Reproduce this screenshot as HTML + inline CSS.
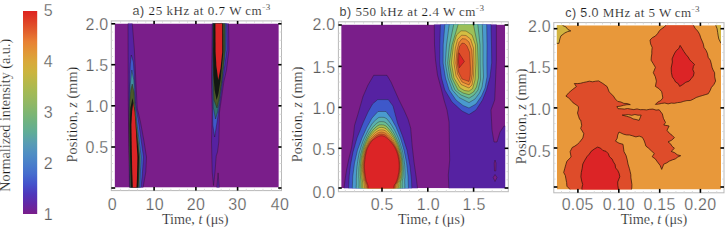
<!DOCTYPE html><html><head><meta charset="utf-8"><style>html,body{margin:0;padding:0;background:#fff;}body{width:726px;height:227px;overflow:hidden;position:relative;}svg{position:absolute;left:0;top:0;}</style></head><body>
<svg width="726" height="227" viewBox="0 0 726 227">
<defs><linearGradient id="cb" x1="0" y1="1" x2="0" y2="0">
<stop offset="0.000" stop-color="#7a1e8a"/>
<stop offset="0.050" stop-color="#6228a6"/>
<stop offset="0.100" stop-color="#4e38bc"/>
<stop offset="0.150" stop-color="#4454cc"/>
<stop offset="0.200" stop-color="#466ece"/>
<stop offset="0.250" stop-color="#4a80ca"/>
<stop offset="0.300" stop-color="#508fc3"/>
<stop offset="0.350" stop-color="#599db3"/>
<stop offset="0.400" stop-color="#60ac98"/>
<stop offset="0.450" stop-color="#6db283"/>
<stop offset="0.500" stop-color="#7fb671"/>
<stop offset="0.550" stop-color="#93b863"/>
<stop offset="0.600" stop-color="#a3ba55"/>
<stop offset="0.650" stop-color="#b7b849"/>
<stop offset="0.700" stop-color="#ccb43e"/>
<stop offset="0.750" stop-color="#d9a93a"/>
<stop offset="0.800" stop-color="#e29636"/>
<stop offset="0.850" stop-color="#e88034"/>
<stop offset="0.900" stop-color="#e25f2d"/>
<stop offset="0.950" stop-color="#df4026"/>
<stop offset="1.000" stop-color="#de2220"/>
</linearGradient>
<clipPath id="clipa"><rect x="114.6" y="23.5" width="164.2" height="164.1"/></clipPath>
<clipPath id="clipb"><rect x="341.2" y="24.6" width="164.0" height="163.6"/></clipPath>
<clipPath id="clipc"><rect x="556.8" y="25.3" width="164.2" height="164.2"/></clipPath>
</defs>
<rect x="23" y="11" width="14.2" height="203" fill="url(#cb)"/>
<text x="43.8" y="16.0" font-family="'Liberation Sans', sans-serif" font-size="16" fill="#5a5a5a" stroke="#fff" stroke-width="0.25">5</text>
<text x="43.8" y="67.0" font-family="'Liberation Sans', sans-serif" font-size="16" fill="#5a5a5a" stroke="#fff" stroke-width="0.25">4</text>
<text x="43.8" y="118.0" font-family="'Liberation Sans', sans-serif" font-size="16" fill="#5a5a5a" stroke="#fff" stroke-width="0.25">3</text>
<text x="43.8" y="169.0" font-family="'Liberation Sans', sans-serif" font-size="16" fill="#5a5a5a" stroke="#fff" stroke-width="0.25">2</text>
<text x="43.8" y="220.0" font-family="'Liberation Sans', sans-serif" font-size="16" fill="#5a5a5a" stroke="#fff" stroke-width="0.25">1</text>
<text transform="translate(9.6,115.2) rotate(-90)" text-anchor="middle" font-family="'Liberation Serif', serif" font-size="14.2" fill="#1a1a1a" stroke="#fff" stroke-width="0.2">Normalized intensity (a.u.)</text>
<g clip-path="url(#clipa)">
<rect x="114.6" y="23.5" width="164.2" height="164.1" fill="#7a1e8a"/>
<polygon points="128.0,20.0 132.0,20.0 134.4,50.0 135.8,80.0 137.2,108.0 140.5,122.0 143.8,140.0 146.5,157.0 145.8,172.0 144.0,182.0 142.4,192.0 129.5,192.0 128.9,150.0 128.2,100.0" fill="#5622a2" stroke="#201010" stroke-opacity="0.75" stroke-width="0.45" stroke-linejoin="round"/>
<polygon points="131.3,55.0 133.4,62.0 134.6,80.0 135.6,105.0 138.6,122.0 143.5,157.0 142.2,176.0 140.6,192.0 130.0,192.0 129.2,150.0 129.0,110.0 129.6,80.0 130.3,64.0" fill="#3e58ca" stroke="#201010" stroke-opacity="0.75" stroke-width="0.45" stroke-linejoin="round"/>
<polygon points="131.8,70.0 133.8,80.0 134.8,100.0 136.8,122.0 141.2,157.0 140.0,180.0 139.2,192.0 130.3,192.0 129.4,150.0 129.4,110.0 130.2,85.0" fill="#3f8fa0" stroke="#201010" stroke-opacity="0.75" stroke-width="0.45" stroke-linejoin="round"/>
<polygon points="132.2,84.0 134.0,92.0 134.6,104.0 136.2,122.0 139.8,157.0 139.0,180.0 138.4,192.0 130.7,192.0 129.6,157.0 129.3,125.0 129.8,100.0 130.8,90.0" fill="#4a5a2a" stroke="#201010" stroke-opacity="0.75" stroke-width="0.45" stroke-linejoin="round"/>
<polygon points="132.5,98.0 134.3,108.0 135.8,124.0 139.0,157.0 138.5,180.0 137.8,192.0 131.2,192.0 130.1,157.0 129.7,125.0 130.4,108.0" fill="#121812" />
<polygon points="133.2,103.0 134.6,112.0 135.6,125.0 137.4,157.0 136.9,180.0 136.2,192.0 133.0,192.0 132.2,170.0 131.8,150.0 131.4,125.0 132.1,112.0" fill="#dc2426" />
<polygon points="212.2,20.0 228.4,20.0 229.0,50.0 226.5,70.0 223.8,82.0 219.5,112.0 218.8,142.0 217.5,152.0 216.2,156.0 215.0,172.0 213.5,185.5 212.2,172.0 211.5,142.0 212.2,112.0 211.5,82.0 211.9,52.0" fill="#5622a2" stroke="#201010" stroke-opacity="0.75" stroke-width="0.45" stroke-linejoin="round"/>
<polygon points="212.8,20.0 226.6,20.0 226.9,50.0 223.5,75.0 220.8,95.0 218.6,112.0 216.6,125.0 214.6,137.0 212.8,125.0 212.4,100.0 212.1,75.0 212.5,52.0" fill="#3e58ca" stroke="#201010" stroke-opacity="0.75" stroke-width="0.45" stroke-linejoin="round"/>
<polygon points="213.2,20.0 225.4,20.0 225.5,50.0 222.2,80.0 219.6,100.0 217.6,112.0 215.5,119.0 213.4,108.0 212.8,85.0 213.0,52.0" fill="#2f6f70" stroke="#201010" stroke-opacity="0.75" stroke-width="0.45" stroke-linejoin="round"/>
<polygon points="213.3,20.0 224.6,20.0 224.6,52.0 221.8,80.0 219.2,98.0 217.0,108.0 214.0,100.0 213.2,80.0 213.1,52.0" fill="#4a5a2a" stroke="#201010" stroke-opacity="0.75" stroke-width="0.45" stroke-linejoin="round"/>
<polygon points="213.4,20.0 223.2,20.0 223.4,52.0 220.6,80.0 218.4,94.0 216.6,100.0 214.6,90.0 213.4,75.0 213.2,52.0" fill="#121812" />
<polygon points="215.4,20.0 222.2,20.0 222.2,52.0 220.6,68.0 218.2,80.0 216.4,66.0 215.6,52.0" fill="#dc2426" />
<polygon points="218.1,172.9 219.6,192.0 216.4,192.0" fill="#5622a2" stroke="#201010" stroke-opacity="0.75" stroke-width="0.45" stroke-linejoin="round"/>
</g>
<rect x="111.3" y="20.9" width="170.2" height="169.7" fill="none" stroke="#b9b9b9" stroke-width="1"/>
<rect x="120.27" y="188.8" width="0.8" height="1.8" fill="#d4d4d4"/>
<rect x="120.27" y="20.9" width="0.8" height="1.8" fill="#d4d4d4"/>
<rect x="128.64" y="188.8" width="0.8" height="1.8" fill="#d4d4d4"/>
<rect x="128.64" y="20.9" width="0.8" height="1.8" fill="#d4d4d4"/>
<rect x="137.01" y="188.8" width="0.8" height="1.8" fill="#d4d4d4"/>
<rect x="137.01" y="20.9" width="0.8" height="1.8" fill="#d4d4d4"/>
<rect x="145.38" y="188.8" width="0.8" height="1.8" fill="#d4d4d4"/>
<rect x="145.38" y="20.9" width="0.8" height="1.8" fill="#d4d4d4"/>
<rect x="153.75" y="188.8" width="0.8" height="1.8" fill="#d4d4d4"/>
<rect x="153.75" y="20.9" width="0.8" height="1.8" fill="#d4d4d4"/>
<rect x="162.12" y="188.8" width="0.8" height="1.8" fill="#d4d4d4"/>
<rect x="162.12" y="20.9" width="0.8" height="1.8" fill="#d4d4d4"/>
<rect x="170.49" y="188.8" width="0.8" height="1.8" fill="#d4d4d4"/>
<rect x="170.49" y="20.9" width="0.8" height="1.8" fill="#d4d4d4"/>
<rect x="178.86" y="188.8" width="0.8" height="1.8" fill="#d4d4d4"/>
<rect x="178.86" y="20.9" width="0.8" height="1.8" fill="#d4d4d4"/>
<rect x="187.23" y="188.8" width="0.8" height="1.8" fill="#d4d4d4"/>
<rect x="187.23" y="20.9" width="0.8" height="1.8" fill="#d4d4d4"/>
<rect x="195.60" y="188.8" width="0.8" height="1.8" fill="#d4d4d4"/>
<rect x="195.60" y="20.9" width="0.8" height="1.8" fill="#d4d4d4"/>
<rect x="203.97" y="188.8" width="0.8" height="1.8" fill="#d4d4d4"/>
<rect x="203.97" y="20.9" width="0.8" height="1.8" fill="#d4d4d4"/>
<rect x="212.34" y="188.8" width="0.8" height="1.8" fill="#d4d4d4"/>
<rect x="212.34" y="20.9" width="0.8" height="1.8" fill="#d4d4d4"/>
<rect x="220.71" y="188.8" width="0.8" height="1.8" fill="#d4d4d4"/>
<rect x="220.71" y="20.9" width="0.8" height="1.8" fill="#d4d4d4"/>
<rect x="229.08" y="188.8" width="0.8" height="1.8" fill="#d4d4d4"/>
<rect x="229.08" y="20.9" width="0.8" height="1.8" fill="#d4d4d4"/>
<rect x="237.45" y="188.8" width="0.8" height="1.8" fill="#d4d4d4"/>
<rect x="237.45" y="20.9" width="0.8" height="1.8" fill="#d4d4d4"/>
<rect x="245.82" y="188.8" width="0.8" height="1.8" fill="#d4d4d4"/>
<rect x="245.82" y="20.9" width="0.8" height="1.8" fill="#d4d4d4"/>
<rect x="254.19" y="188.8" width="0.8" height="1.8" fill="#d4d4d4"/>
<rect x="254.19" y="20.9" width="0.8" height="1.8" fill="#d4d4d4"/>
<rect x="262.56" y="188.8" width="0.8" height="1.8" fill="#d4d4d4"/>
<rect x="262.56" y="20.9" width="0.8" height="1.8" fill="#d4d4d4"/>
<rect x="270.93" y="188.8" width="0.8" height="1.8" fill="#d4d4d4"/>
<rect x="270.93" y="20.9" width="0.8" height="1.8" fill="#d4d4d4"/>
<rect x="279.30" y="188.8" width="0.8" height="1.8" fill="#d4d4d4"/>
<rect x="279.30" y="20.9" width="0.8" height="1.8" fill="#d4d4d4"/>
<rect x="111.3" y="23.40" width="1.8" height="0.8" fill="#d4d4d4"/>
<rect x="279.7" y="23.40" width="1.8" height="0.8" fill="#d4d4d4"/>
<rect x="111.3" y="31.62" width="1.8" height="0.8" fill="#d4d4d4"/>
<rect x="279.7" y="31.62" width="1.8" height="0.8" fill="#d4d4d4"/>
<rect x="111.3" y="39.84" width="1.8" height="0.8" fill="#d4d4d4"/>
<rect x="279.7" y="39.84" width="1.8" height="0.8" fill="#d4d4d4"/>
<rect x="111.3" y="48.06" width="1.8" height="0.8" fill="#d4d4d4"/>
<rect x="279.7" y="48.06" width="1.8" height="0.8" fill="#d4d4d4"/>
<rect x="111.3" y="56.28" width="1.8" height="0.8" fill="#d4d4d4"/>
<rect x="279.7" y="56.28" width="1.8" height="0.8" fill="#d4d4d4"/>
<rect x="111.3" y="64.50" width="1.8" height="0.8" fill="#d4d4d4"/>
<rect x="279.7" y="64.50" width="1.8" height="0.8" fill="#d4d4d4"/>
<rect x="111.3" y="72.72" width="1.8" height="0.8" fill="#d4d4d4"/>
<rect x="279.7" y="72.72" width="1.8" height="0.8" fill="#d4d4d4"/>
<rect x="111.3" y="80.94" width="1.8" height="0.8" fill="#d4d4d4"/>
<rect x="279.7" y="80.94" width="1.8" height="0.8" fill="#d4d4d4"/>
<rect x="111.3" y="89.16" width="1.8" height="0.8" fill="#d4d4d4"/>
<rect x="279.7" y="89.16" width="1.8" height="0.8" fill="#d4d4d4"/>
<rect x="111.3" y="97.38" width="1.8" height="0.8" fill="#d4d4d4"/>
<rect x="279.7" y="97.38" width="1.8" height="0.8" fill="#d4d4d4"/>
<rect x="111.3" y="105.60" width="1.8" height="0.8" fill="#d4d4d4"/>
<rect x="279.7" y="105.60" width="1.8" height="0.8" fill="#d4d4d4"/>
<rect x="111.3" y="113.82" width="1.8" height="0.8" fill="#d4d4d4"/>
<rect x="279.7" y="113.82" width="1.8" height="0.8" fill="#d4d4d4"/>
<rect x="111.3" y="122.04" width="1.8" height="0.8" fill="#d4d4d4"/>
<rect x="279.7" y="122.04" width="1.8" height="0.8" fill="#d4d4d4"/>
<rect x="111.3" y="130.26" width="1.8" height="0.8" fill="#d4d4d4"/>
<rect x="279.7" y="130.26" width="1.8" height="0.8" fill="#d4d4d4"/>
<rect x="111.3" y="138.48" width="1.8" height="0.8" fill="#d4d4d4"/>
<rect x="279.7" y="138.48" width="1.8" height="0.8" fill="#d4d4d4"/>
<rect x="111.3" y="146.70" width="1.8" height="0.8" fill="#d4d4d4"/>
<rect x="279.7" y="146.70" width="1.8" height="0.8" fill="#d4d4d4"/>
<rect x="111.3" y="154.92" width="1.8" height="0.8" fill="#d4d4d4"/>
<rect x="279.7" y="154.92" width="1.8" height="0.8" fill="#d4d4d4"/>
<rect x="111.3" y="163.14" width="1.8" height="0.8" fill="#d4d4d4"/>
<rect x="279.7" y="163.14" width="1.8" height="0.8" fill="#d4d4d4"/>
<rect x="111.3" y="171.36" width="1.8" height="0.8" fill="#d4d4d4"/>
<rect x="279.7" y="171.36" width="1.8" height="0.8" fill="#d4d4d4"/>
<rect x="111.3" y="179.58" width="1.8" height="0.8" fill="#d4d4d4"/>
<rect x="279.7" y="179.58" width="1.8" height="0.8" fill="#d4d4d4"/>
<rect x="111.3" y="187.80" width="1.8" height="0.8" fill="#d4d4d4"/>
<rect x="279.7" y="187.80" width="1.8" height="0.8" fill="#d4d4d4"/>
<rect x="153.30" y="187.0" width="1.6" height="3.6" fill="#000"/>
<rect x="153.30" y="20.9" width="1.6" height="3.2" fill="#000"/>
<rect x="195.10" y="187.0" width="1.6" height="3.6" fill="#000"/>
<rect x="195.10" y="20.9" width="1.6" height="3.2" fill="#000"/>
<rect x="236.80" y="187.0" width="1.6" height="3.6" fill="#000"/>
<rect x="236.80" y="20.9" width="1.6" height="3.2" fill="#000"/>
<rect x="111.3" y="187.20" width="3.9" height="1.6" fill="#000"/>
<rect x="278.2" y="187.20" width="3.3" height="1.6" fill="#000"/>
<rect x="111.3" y="146.20" width="3.9" height="1.6" fill="#000"/>
<rect x="278.2" y="146.20" width="3.3" height="1.6" fill="#000"/>
<rect x="111.3" y="105.00" width="3.9" height="1.6" fill="#000"/>
<rect x="278.2" y="105.00" width="3.3" height="1.6" fill="#000"/>
<rect x="111.3" y="63.90" width="3.9" height="1.6" fill="#000"/>
<rect x="278.2" y="63.90" width="3.3" height="1.6" fill="#000"/>
<rect x="111.3" y="23.00" width="3.9" height="1.6" fill="#000"/>
<rect x="278.2" y="23.00" width="3.3" height="1.6" fill="#000"/>
<g clip-path="url(#clipb)">
<rect x="341.2" y="24.6" width="164.0" height="163.6" fill="#7a1e8a"/>
<polygon points="434.3,20.0 434.3,25.0 434.5,45.0 435.5,60.0 437.5,75.0 441.0,88.0 444.0,100.0 447.0,110.0 449.0,122.0 449.3,140.0 449.7,160.0 448.3,175.0 449.0,192.0 510.0,192.0 510.0,126.0 504.0,126.0 500.0,132.0 497.0,142.0 494.0,142.0 492.0,130.0 491.0,110.0 494.7,100.0 496.4,60.0 496.4,20.0" fill="#5622a2" stroke="#201010" stroke-opacity="0.75" stroke-width="0.45" stroke-linejoin="round"/>
<polygon points="495.0,174.5 497.0,177.5 495.0,181.5 493.2,177.5" fill="#7a1e8a" stroke="#201010" stroke-opacity="0.75" stroke-width="0.45" stroke-linejoin="round"/>
<polygon points="495.0,160.0 496.0,163.0 495.8,171.0 494.5,171.0 494.2,163.0" fill="#7a1e8a" stroke="#201010" stroke-opacity="0.75" stroke-width="0.45" stroke-linejoin="round"/>
<polygon points="440.4,10.0 440.4,25.0 439.8,45.0 439.7,63.0 441.5,78.0 444.8,90.0 452.0,102.0 462.0,111.0 469.0,114.5 476.0,110.0 482.5,100.0 486.5,90.0 490.0,77.0 491.7,63.0 491.5,45.0 491.0,25.0 491.0,10.0" fill="#3e58ca" stroke="#201010" stroke-opacity="0.75" stroke-width="0.45" stroke-linejoin="round"/>
<polygon points="444.8,10.0 444.8,25.0 443.2,45.0 443.1,63.0 445.5,78.0 449.2,90.0 456.0,100.0 463.0,105.5 469.0,108.0 476.0,104.0 481.5,96.0 485.0,88.0 487.0,77.0 486.9,63.0 487.0,45.0 486.7,25.0 486.7,10.0" fill="#4a9ace" stroke="#201010" stroke-opacity="0.75" stroke-width="0.45" stroke-linejoin="round"/>
<polygon points="449.2,10.0 449.2,25.0 446.5,45.0 445.3,63.0 448.0,78.0 452.3,90.0 459.0,97.5 469.0,102.6 475.0,99.0 479.5,93.0 482.0,87.0 483.5,77.0 483.0,63.0 483.0,45.0 482.3,25.0 482.3,10.0" fill="#5ab0b0" stroke="#201010" stroke-opacity="0.75" stroke-width="0.45" stroke-linejoin="round"/>
<polygon points="453.6,10.0 453.6,25.0 449.5,45.0 447.7,63.0 450.0,78.0 455.0,90.0 461.0,95.0 469.0,98.2 474.0,95.0 478.0,90.0 480.5,80.0 480.1,63.0 480.0,45.0 477.9,25.0 477.9,10.0" fill="#6cbe90" stroke="#201010" stroke-opacity="0.75" stroke-width="0.45" stroke-linejoin="round"/>
<polygon points="458.0,10.0 458.0,25.0 452.0,45.0 449.3,63.0 452.0,78.0 458.0,90.0 463.0,93.0 469.0,94.7 473.5,92.0 476.5,87.0 478.5,78.0 478.2,63.0 477.5,45.0 473.5,25.0 473.5,10.0" fill="#9cc058" stroke="#201010" stroke-opacity="0.75" stroke-width="0.45" stroke-linejoin="round"/>
<polygon points="461.0,30.8 456.5,35.0 453.5,45.0 451.4,63.0 454.0,78.0 460.0,88.0 464.5,90.5 469.0,91.2 472.6,88.5 475.0,80.0 475.9,63.0 475.5,45.0 472.0,35.0 466.0,31.0" fill="#d4be42" stroke="#201010" stroke-opacity="0.75" stroke-width="0.45" stroke-linejoin="round"/>
<polygon points="461.5,35.2 457.5,39.5 455.3,48.0 453.9,63.0 456.0,76.0 461.0,84.5 469.0,88.0 472.0,85.0 473.5,76.0 474.0,63.0 473.5,48.0 470.5,39.0 466.0,35.5" fill="#eea23e" stroke="#201010" stroke-opacity="0.75" stroke-width="0.45" stroke-linejoin="round"/>
<polygon points="462.0,38.7 459.0,42.5 457.0,50.0 455.8,63.0 457.5,74.0 462.0,82.0 469.0,85.0 471.0,81.0 472.3,74.0 472.6,63.0 471.8,50.0 469.0,42.0 465.5,39.0" fill="#e88032" stroke="#201010" stroke-opacity="0.75" stroke-width="0.45" stroke-linejoin="round"/>
<polygon points="462.0,43.1 459.5,46.5 457.8,54.0 457.3,63.0 458.5,72.0 462.0,79.0 469.0,81.5 470.2,76.0 470.4,68.0 470.0,60.0 469.5,52.0 467.0,46.0 464.5,43.5" fill="#de4e2a" stroke="#201010" stroke-opacity="0.75" stroke-width="0.45" stroke-linejoin="round"/>
<polygon points="458.9,52.8 464.4,61.5 459.3,67.8 458.5,62.0" fill="#dc2426" stroke="#201010" stroke-opacity="0.75" stroke-width="0.45" stroke-linejoin="round"/>
<polygon points="344.0,210.0 344.0,188.0 345.0,180.0 346.5,170.0 349.0,158.0 351.5,148.0 353.5,135.0 354.5,125.5 358.0,114.0 363.0,96.5 368.0,85.0 373.7,75.3 387.0,75.3 391.0,82.0 395.0,91.0 399.0,100.0 404.0,110.0 408.0,119.0 410.7,128.2 412.2,146.0 414.0,162.0 416.0,176.0 417.5,188.0 417.5,210.0" fill="#5622a2" stroke="#201010" stroke-opacity="0.75" stroke-width="0.45" stroke-linejoin="round"/>
<polygon points="348.6,210.0 348.6,188.0 349.2,176.0 350.5,165.0 353.0,152.0 357.0,138.0 363.0,123.0 368.0,112.0 372.5,104.0 377.7,99.6 388.3,99.6 393.0,106.0 397.5,123.0 402.5,136.0 407.0,150.0 410.0,166.0 411.5,180.0 411.8,188.0 411.8,210.0" fill="#3e58ca" stroke="#201010" stroke-opacity="0.75" stroke-width="0.45" stroke-linejoin="round"/>
<polygon points="352.5,210.0 352.3,188.0 352.8,176.0 354.5,163.0 357.5,150.0 362.0,138.0 367.0,127.0 372.0,118.0 378.0,111.5 386.0,111.5 391.0,118.0 396.0,127.0 400.5,138.0 404.0,150.0 406.6,163.0 408.0,176.0 408.4,188.0 408.4,210.0" fill="#4a9ace" stroke="#201010" stroke-opacity="0.75" stroke-width="0.45" stroke-linejoin="round"/>
<polygon points="405.0,192.0 404.9,191.2 404.9,190.4 404.9,189.5 404.9,188.7 404.9,187.9 404.8,187.0 404.8,186.2 404.8,185.3 404.8,184.4 404.7,183.5 404.7,182.6 404.7,181.7 404.7,180.7 404.7,179.6 404.8,178.5 405.0,177.3 405.0,176.1 405.0,174.9 405.0,173.6 405.0,172.3 405.0,170.9 404.9,169.4 404.8,167.8 404.8,166.2 404.6,164.4 404.4,162.7 404.1,160.8 403.9,158.9 403.5,156.8 403.1,154.5 402.7,152.2 402.1,149.8 401.4,147.4 400.6,144.7 399.7,141.9 398.7,139.1 397.5,136.3 396.1,133.3 394.6,130.2 392.9,127.3 391.0,124.2 388.9,121.4 386.6,118.6 384.1,117.4 381.5,117.3 378.9,117.4 376.4,119.2 374.1,121.5 371.9,124.0 370.1,127.1 368.3,130.0 366.8,133.0 365.4,135.9 364.2,138.6 363.0,141.2 362.1,143.9 361.2,146.5 360.5,148.9 359.8,151.1 359.1,153.3 358.7,155.5 358.3,157.6 358.0,159.6 357.7,161.5 357.4,163.3 357.2,165.0 357.0,166.6 356.9,168.2 356.7,169.7 356.6,171.1 356.5,172.5 356.5,173.8 356.4,175.1 356.4,176.3 356.4,177.5 356.3,178.6 356.3,179.7 356.3,180.8 356.3,181.8 356.3,182.8 356.3,183.8 356.3,184.8 356.2,185.7 356.2,186.6 356.1,187.5 356.1,188.4 356.1,189.3 356.1,190.2 356.1,191.1 356.1,192.0 356.1,192.9 356.0,193.8 356.0,194.7 356.0,195.6 356.0,196.5 356.0,197.4 356.0,198.4 356.0,199.3 356.0,200.3 356.0,201.3 355.9,202.3 355.9,203.4 355.9,204.5 355.9,205.6 355.9,206.8 356.0,207.9 357.6,208.1 359.1,208.3 360.4,208.5 361.6,208.7 362.7,208.9 363.8,209.1 364.7,209.3 365.7,209.5 366.7,209.7 367.5,209.9 368.4,210.0 369.3,210.1 370.1,210.2 371.0,210.3 371.7,210.4 372.5,210.4 373.3,210.4 374.0,210.5 374.8,210.5 375.5,210.5 376.2,210.6 376.9,210.6 377.5,210.6 378.2,210.6 378.9,210.6 379.5,210.6 380.2,210.6 380.8,210.7 381.5,210.7 382.2,210.6 382.8,210.6 383.5,210.6 384.1,210.6 384.8,210.6 385.5,210.6 386.1,210.6 386.8,210.5 387.5,210.5 388.2,210.5 388.9,210.4 389.7,210.4 390.4,210.3 391.2,210.2 392.0,210.2 392.8,210.1 393.6,210.0 394.5,209.8 395.3,209.7 396.2,209.5 397.1,209.3 398.0,209.1 399.0,208.9 400.0,208.7 401.2,208.5 402.4,208.3 403.7,208.1 405.1,207.9 405.2,206.8 405.2,205.7 405.2,204.6 405.2,203.6 405.2,202.5 405.2,201.6 405.1,200.6 405.1,199.7 405.1,198.8 405.1,197.9 405.1,197.0 405.0,196.2 405.0,195.3 405.0,194.5 405.0,193.6 405.0,192.8" fill="#5ab0b0" stroke="#201010" stroke-opacity="0.75" stroke-width="0.45" stroke-linejoin="round"/>
<polygon points="402.4,192.0 402.3,191.3 402.3,190.5 402.3,189.8 402.3,189.1 402.3,188.3 402.2,187.6 402.2,186.8 402.2,186.1 402.1,185.3 402.1,184.5 402.1,183.7 402.2,182.8 402.2,181.9 402.2,181.0 402.4,179.9 402.8,178.7 402.9,177.6 403.0,176.4 403.1,175.1 403.2,173.8 403.2,172.4 403.3,171.0 403.3,169.4 403.3,167.8 403.3,166.1 403.1,164.3 403.0,162.5 402.7,160.5 402.5,158.4 402.1,156.2 401.7,153.9 401.2,151.6 400.5,149.2 399.8,146.7 399.0,144.0 397.9,141.5 396.7,138.8 395.4,136.1 394.0,133.3 392.3,130.7 390.5,127.9 388.5,125.4 386.3,123.0 384.0,121.8 381.5,121.6 379.0,121.8 376.7,123.3 374.5,125.3 372.4,127.6 370.6,130.3 368.9,132.9 367.4,135.6 366.1,138.4 364.9,141.0 363.9,143.5 363.0,146.2 362.2,148.7 361.6,151.1 360.9,153.3 360.4,155.5 360.1,157.7 359.8,159.8 359.5,161.8 359.3,163.6 359.2,165.4 359.0,167.0 358.9,168.6 358.9,170.1 358.8,171.6 358.8,173.0 358.8,174.2 358.8,175.5 358.8,176.7 358.9,177.9 359.0,179.0 359.0,180.0 359.1,181.1 359.1,182.0 359.1,182.9 359.1,183.8 359.1,184.7 359.1,185.6 359.0,186.4 359.0,187.2 359.0,188.0 358.9,188.8 358.9,189.6 358.9,190.4 358.9,191.2 358.9,192.0 358.8,192.8 358.8,193.6 358.8,194.4 358.8,195.2 358.7,196.0 358.7,196.8 358.7,197.7 358.7,198.6 358.6,199.4 358.6,200.3 358.6,201.3 358.5,202.2 358.5,203.2 358.5,204.3 358.4,205.3 358.5,206.4 359.7,206.7 360.8,207.0 361.8,207.4 362.7,207.7 363.6,208.1 364.4,208.5 365.2,208.9 366.0,209.2 366.8,209.5 367.6,209.8 368.4,210.0 369.2,210.2 370.0,210.3 370.8,210.5 371.6,210.6 372.4,210.7 373.1,210.8 373.9,210.8 374.6,210.9 375.3,211.0 376.0,211.0 376.8,211.0 377.4,211.1 378.1,211.1 378.8,211.1 379.5,211.1 380.2,211.1 380.8,211.2 381.5,211.1 382.2,211.1 382.8,211.1 383.5,211.1 384.2,211.1 384.9,211.1 385.5,211.0 386.2,211.0 386.9,210.9 387.6,210.9 388.3,210.8 389.1,210.7 389.8,210.7 390.6,210.6 391.3,210.4 392.1,210.3 392.8,210.2 393.6,210.0 394.4,209.7 395.1,209.4 395.9,209.1 396.6,208.8 397.4,208.4 398.1,208.1 398.9,207.7 399.8,207.4 400.7,207.0 401.7,206.7 402.8,206.4 402.9,205.4 402.9,204.3 402.8,203.3 402.8,202.4 402.8,201.5 402.7,200.6 402.7,199.7 402.6,198.9 402.6,198.1 402.6,197.3 402.5,196.5 402.5,195.7 402.5,194.9 402.5,194.2 402.4,193.5 402.4,192.7" fill="#6cbe90" stroke="#201010" stroke-opacity="0.75" stroke-width="0.45" stroke-linejoin="round"/>
<polygon points="400.5,192.0 400.5,191.3 400.4,190.7 400.4,190.0 400.4,189.3 400.4,188.7 400.3,188.0 400.3,187.3 400.3,186.6 400.2,185.9 400.3,185.2 400.3,184.4 400.3,183.6 400.4,182.8 400.4,181.9 400.7,180.9 401.2,179.7 401.4,178.6 401.6,177.4 401.8,176.2 401.9,174.9 402.0,173.5 402.1,172.1 402.2,170.6 402.3,168.9 402.3,167.2 402.2,165.5 402.1,163.6 401.9,161.7 401.7,159.6 401.4,157.5 401.1,155.2 400.5,153.0 399.9,150.6 399.2,148.1 398.4,145.6 397.4,143.1 396.2,140.7 394.9,138.1 393.5,135.6 391.9,133.1 390.1,130.6 388.2,128.3 386.1,126.1 383.8,125.0 381.5,124.8 379.2,124.9 376.9,126.3 374.8,128.1 372.8,130.2 371.0,132.6 369.4,135.0 367.9,137.6 366.6,140.2 365.5,142.7 364.5,145.2 363.6,147.8 362.9,150.3 362.3,152.7 361.8,155.0 361.3,157.1 361.0,159.3 360.8,161.3 360.6,163.3 360.5,165.1 360.4,166.9 360.3,168.5 360.3,170.1 360.3,171.6 360.3,173.0 360.4,174.3 360.4,175.5 360.5,176.7 360.6,177.9 360.8,179.0 360.9,180.1 361.0,181.1 361.0,182.0 361.1,182.9 361.1,183.8 361.1,184.6 361.1,185.4 361.1,186.2 361.1,186.9 361.1,187.7 361.0,188.4 361.0,189.1 361.0,189.8 361.0,190.6 360.9,191.3 360.9,192.0 360.9,192.7 360.8,193.4 360.8,194.2 360.7,194.9 360.7,195.7 360.7,196.4 360.6,197.2 360.6,198.0 360.5,198.8 360.5,199.6 360.4,200.5 360.4,201.4 360.3,202.3 360.3,203.3 360.3,204.3 360.3,205.2 361.3,205.7 362.1,206.1 362.8,206.6 363.6,207.0 364.3,207.5 364.9,208.0 365.6,208.5 366.3,208.9 367.0,209.3 367.7,209.7 368.4,210.0 369.2,210.2 370.0,210.4 370.8,210.6 371.5,210.8 372.3,210.9 373.0,211.0 373.8,211.1 374.5,211.2 375.2,211.2 376.0,211.3 376.7,211.4 377.4,211.4 378.1,211.4 378.8,211.4 379.5,211.5 380.1,211.5 380.8,211.5 381.5,211.5 382.2,211.5 382.9,211.4 383.5,211.4 384.2,211.4 384.9,211.4 385.6,211.4 386.3,211.3 387.0,211.2 387.7,211.1 388.4,211.1 389.2,211.0 389.9,210.9 390.6,210.8 391.4,210.6 392.1,210.4 392.9,210.2 393.6,210.0 394.3,209.6 395.0,209.2 395.6,208.9 396.3,208.5 396.9,207.9 397.5,207.5 398.2,207.0 398.9,206.6 399.5,206.1 400.3,205.6 401.1,205.2 401.2,204.3 401.1,203.3 401.1,202.4 401.1,201.5 401.0,200.7 401.0,199.9 400.9,199.1 400.9,198.3 400.8,197.5 400.8,196.8 400.7,196.1 400.7,195.4 400.7,194.7 400.6,194.0 400.6,193.3 400.5,192.7" fill="#9cc058" stroke="#201010" stroke-opacity="0.75" stroke-width="0.45" stroke-linejoin="round"/>
<polygon points="398.9,192.0 398.9,191.4 398.8,190.8 398.8,190.2 398.8,189.6 398.8,189.0 398.7,188.3 398.7,187.7 398.7,187.1 398.6,186.4 398.7,185.7 398.7,185.0 398.7,184.3 398.8,183.6 398.9,182.7 399.2,181.8 399.9,180.5 400.1,179.4 400.4,178.3 400.6,177.1 400.8,175.8 401.0,174.5 401.1,173.1 401.2,171.6 401.4,169.9 401.4,168.2 401.4,166.5 401.4,164.6 401.3,162.7 401.1,160.6 400.8,158.5 400.5,156.3 400.0,154.1 399.4,151.7 398.7,149.3 397.9,146.9 396.9,144.6 395.8,142.2 394.5,139.8 393.1,137.5 391.5,135.2 389.8,132.8 387.9,130.7 385.9,128.7 383.7,127.7 381.5,127.4 379.3,127.6 377.1,128.9 375.0,130.5 373.1,132.3 371.4,134.5 369.8,136.7 368.3,139.2 367.1,141.7 365.9,144.1 365.0,146.5 364.2,149.2 363.5,151.7 363.0,154.1 362.5,156.3 362.1,158.4 361.9,160.6 361.7,162.6 361.6,164.6 361.5,166.4 361.5,168.2 361.5,169.8 361.5,171.3 361.6,172.7 361.6,174.1 361.7,175.4 361.8,176.6 361.9,177.7 362.1,178.9 362.3,180.0 362.5,181.0 362.6,182.0 362.7,182.8 362.8,183.7 362.8,184.4 362.8,185.2 362.8,185.9 362.8,186.7 362.8,187.3 362.8,188.0 362.8,188.7 362.7,189.4 362.7,190.0 362.7,190.7 362.7,191.3 362.6,192.0 362.6,192.7 362.5,193.3 362.5,194.0 362.4,194.7 362.4,195.4 362.3,196.1 362.3,196.8 362.2,197.5 362.2,198.3 362.1,199.1 362.0,199.9 362.0,200.7 361.9,201.5 361.9,202.4 361.8,203.4 361.9,204.3 362.5,204.8 363.2,205.3 363.7,205.9 364.3,206.4 364.8,207.0 365.4,207.6 365.8,208.2 366.5,208.7 367.1,209.2 367.7,209.6 368.4,210.1 369.2,210.3 369.9,210.5 370.7,210.7 371.4,211.0 372.2,211.1 373.0,211.2 373.7,211.3 374.4,211.4 375.2,211.5 375.9,211.6 376.6,211.6 377.3,211.7 378.0,211.7 378.7,211.7 379.4,211.8 380.1,211.8 380.8,211.8 381.5,211.8 382.2,211.8 382.9,211.7 383.6,211.7 384.3,211.7 385.0,211.7 385.7,211.6 386.4,211.6 387.1,211.5 387.8,211.4 388.5,211.3 389.2,211.2 390.0,211.1 390.7,210.9 391.4,210.7 392.2,210.5 392.9,210.2 393.7,210.0 394.3,209.5 394.8,209.1 395.5,208.6 396.0,208.1 396.5,207.5 397.0,206.9 397.5,206.4 398.0,205.9 398.5,205.3 399.1,204.8 399.7,204.3 399.7,203.4 399.7,202.5 399.7,201.7 399.6,200.8 399.5,200.0 399.5,199.3 399.4,198.5 399.4,197.8 399.3,197.1 399.3,196.4 399.2,195.8 399.2,195.1 399.1,194.5 399.1,193.8 399.0,193.2 399.0,192.6" fill="#d4be42" stroke="#201010" stroke-opacity="0.75" stroke-width="0.45" stroke-linejoin="round"/>
<polygon points="397.5,192.0 397.4,191.4 397.4,190.9 397.3,190.3 397.3,189.8 397.3,189.2 397.3,188.6 397.2,188.1 397.2,187.5 397.2,186.9 397.2,186.3 397.3,185.6 397.3,185.0 397.4,184.2 397.5,183.5 397.9,182.5 398.7,181.3 399.0,180.2 399.3,179.1 399.6,177.9 399.8,176.6 400.0,175.3 400.2,173.9 400.4,172.4 400.6,170.8 400.7,169.1 400.7,167.4 400.7,165.5 400.7,163.6 400.5,161.6 400.3,159.5 400.0,157.3 399.5,155.1 399.0,152.8 398.3,150.4 397.5,148.1 396.5,145.8 395.4,143.6 394.1,141.4 392.7,139.2 391.2,137.1 389.5,134.9 387.7,132.9 385.8,131.1 383.7,130.1 381.5,129.9 379.3,130.1 377.2,131.2 375.3,132.6 373.4,134.3 371.7,136.3 370.1,138.3 368.7,140.7 367.5,143.1 366.4,145.4 365.4,147.8 364.7,150.4 364.1,152.9 363.6,155.3 363.2,157.5 362.8,159.7 362.6,161.8 362.5,163.8 362.4,165.8 362.4,167.6 362.5,169.3 362.5,170.9 362.6,172.4 362.7,173.8 362.8,175.2 362.9,176.4 363.0,177.5 363.2,178.7 363.4,179.8 363.7,180.9 363.9,181.9 364.1,182.7 364.2,183.6 364.3,184.3 364.3,185.1 364.4,185.8 364.4,186.4 364.4,187.1 364.4,187.7 364.4,188.4 364.3,189.0 364.3,189.6 364.3,190.2 364.3,190.8 364.2,191.4 364.2,192.0 364.1,192.6 364.1,193.2 364.0,193.8 363.9,194.5 363.9,195.1 363.8,195.8 363.8,196.4 363.7,197.1 363.6,197.8 363.6,198.5 363.5,199.3 363.4,200.0 363.4,200.8 363.3,201.7 363.3,202.5 363.3,203.4 363.7,204.0 364.1,204.6 364.5,205.3 364.9,205.9 365.3,206.5 365.7,207.2 366.1,207.9 366.6,208.5 367.2,209.0 367.8,209.6 368.4,210.1 369.1,210.3 369.9,210.6 370.6,210.9 371.3,211.1 372.1,211.3 372.9,211.4 373.6,211.5 374.4,211.6 375.1,211.7 375.8,211.8 376.5,211.9 377.3,211.9 378.0,212.0 378.7,212.0 379.4,212.0 380.1,212.0 380.8,212.1 381.5,212.1 382.2,212.0 382.9,212.0 383.6,212.0 384.3,211.9 385.0,211.9 385.7,211.9 386.4,211.8 387.1,211.7 387.9,211.6 388.6,211.5 389.3,211.3 390.1,211.2 390.8,211.0 391.5,210.8 392.2,210.5 392.9,210.3 393.7,210.0 394.2,209.5 394.7,208.9 395.3,208.4 395.8,207.9 396.1,207.2 396.5,206.5 396.9,205.9 397.3,205.2 397.6,204.6 398.0,204.0 398.4,203.4 398.4,202.6 398.4,201.7 398.3,201.0 398.3,200.2 398.2,199.4 398.1,198.7 398.1,198.0 398.0,197.4 397.9,196.7 397.9,196.1 397.8,195.5 397.8,194.9 397.7,194.3 397.6,193.7 397.6,193.1 397.5,192.6" fill="#eea23e" stroke="#201010" stroke-opacity="0.75" stroke-width="0.45" stroke-linejoin="round"/>
<polygon points="396.2,192.0 396.1,191.5 396.1,191.0 396.0,190.5 396.0,190.0 396.0,189.4 396.0,188.9 395.9,188.4 395.9,187.9 395.9,187.3 395.9,186.7 396.0,186.2 396.0,185.5 396.1,184.9 396.3,184.1 396.7,183.2 397.6,182.0 397.9,180.9 398.3,179.8 398.6,178.6 398.9,177.4 399.2,176.1 399.4,174.7 399.6,173.2 399.8,171.6 400.0,170.0 400.1,168.2 400.1,166.4 400.1,164.4 400.0,162.4 399.8,160.3 399.5,158.2 399.1,156.0 398.5,153.7 397.9,151.4 397.1,149.2 396.1,147.0 395.0,144.9 393.8,142.8 392.4,140.7 390.9,138.7 389.3,136.7 387.5,134.9 385.6,133.3 383.6,132.3 381.5,132.0 379.4,132.3 377.4,133.3 375.5,134.6 373.6,136.1 372.0,137.9 370.4,139.8 369.0,142.0 367.8,144.3 366.7,146.6 365.8,149.0 365.1,151.5 364.6,154.0 364.1,156.4 363.8,158.7 363.5,160.8 363.3,162.9 363.2,164.9 363.2,166.8 363.3,168.7 363.3,170.4 363.4,171.9 363.6,173.4 363.7,174.8 363.8,176.1 364.0,177.3 364.1,178.4 364.3,179.5 364.6,180.6 365.0,181.7 365.2,182.6 365.4,183.5 365.6,184.2 365.7,185.0 365.7,185.6 365.8,186.3 365.8,186.9 365.8,187.5 365.8,188.1 365.8,188.7 365.7,189.2 365.7,189.8 365.7,190.3 365.7,190.9 365.6,191.4 365.6,192.0 365.5,192.6 365.4,193.1 365.4,193.7 365.3,194.3 365.2,194.9 365.2,195.5 365.1,196.1 365.0,196.7 365.0,197.4 364.9,198.0 364.8,198.7 364.7,199.5 364.6,200.2 364.6,201.0 364.5,201.8 364.5,202.6 364.8,203.3 365.0,204.0 365.2,204.7 365.5,205.4 365.8,206.1 366.1,206.9 366.3,207.7 366.8,208.3 367.3,208.9 367.8,209.5 368.4,210.1 369.1,210.4 369.8,210.7 370.6,211.0 371.3,211.2 372.0,211.4 372.8,211.5 373.6,211.7 374.3,211.8 375.0,211.9 375.7,212.1 376.5,212.1 377.2,212.1 377.9,212.2 378.7,212.2 379.4,212.3 380.1,212.3 380.8,212.3 381.5,212.3 382.2,212.3 382.9,212.2 383.6,212.2 384.3,212.2 385.0,212.1 385.8,212.1 386.5,212.0 387.2,211.9 387.9,211.8 388.6,211.6 389.4,211.5 390.1,211.4 390.8,211.2 391.5,210.9 392.2,210.6 392.9,210.3 393.7,210.0 394.2,209.4 394.6,208.8 395.1,208.2 395.6,207.6 395.8,206.8 396.1,206.1 396.3,205.4 396.6,204.7 396.8,204.0 397.0,203.3 397.3,202.6 397.2,201.8 397.2,201.1 397.1,200.3 397.1,199.6 397.0,198.9 396.9,198.2 396.8,197.6 396.8,197.0 396.7,196.4 396.6,195.8 396.6,195.2 396.5,194.6 396.4,194.1 396.4,193.6 396.3,193.0 396.3,192.5" fill="#e88032" stroke="#201010" stroke-opacity="0.75" stroke-width="0.45" stroke-linejoin="round"/>
<polygon points="395.0,192.0 395.0,191.5 394.9,191.1 394.9,190.6 394.9,190.1 394.8,189.6 394.8,189.2 394.8,188.7 394.7,188.2 394.7,187.7 394.8,187.2 394.8,186.6 394.9,186.0 395.0,185.4 395.2,184.7 395.6,183.8 396.6,182.6 397.0,181.6 397.4,180.5 397.8,179.3 398.1,178.1 398.4,176.8 398.7,175.4 398.9,173.9 399.2,172.4 399.4,170.7 399.5,168.9 399.6,167.1 399.6,165.2 399.5,163.1 399.4,161.1 399.1,159.0 398.7,156.8 398.2,154.6 397.5,152.3 396.7,150.1 395.8,148.0 394.7,146.0 393.5,144.0 392.1,142.1 390.6,140.2 389.0,138.4 387.3,136.7 385.5,135.2 383.5,134.3 381.5,134.0 379.5,134.2 377.5,135.1 375.6,136.3 373.9,137.7 372.2,139.3 370.7,141.1 369.3,143.2 368.1,145.4 367.1,147.6 366.2,150.0 365.5,152.5 365.0,155.0 364.6,157.4 364.3,159.6 364.1,161.8 363.9,163.8 363.9,165.9 363.9,167.8 364.0,169.6 364.1,171.3 364.3,172.9 364.4,174.3 364.6,175.7 364.8,176.9 364.9,178.1 365.1,179.2 365.3,180.3 365.7,181.3 366.1,182.4 366.4,183.3 366.6,184.1 366.8,184.8 366.9,185.5 367.0,186.1 367.0,186.7 367.1,187.3 367.1,187.9 367.1,188.4 367.0,188.9 367.0,189.4 367.0,190.0 367.0,190.5 366.9,191.0 366.9,191.5 366.8,192.0 366.7,192.5 366.7,193.0 366.6,193.6 366.5,194.1 366.5,194.7 366.4,195.2 366.3,195.8 366.2,196.4 366.1,197.0 366.1,197.6 366.0,198.3 365.9,199.0 365.8,199.7 365.7,200.4 365.7,201.1 365.6,201.9 365.7,202.7 365.8,203.4 365.8,204.2 366.0,205.0 366.2,205.8 366.4,206.6 366.6,207.5 367.0,208.2 367.4,208.8 367.8,209.5 368.4,210.1 369.1,210.4 369.8,210.7 370.5,211.0 371.2,211.4 372.0,211.5 372.7,211.7 373.5,211.8 374.2,212.0 375.0,212.1 375.7,212.3 376.4,212.3 377.2,212.3 377.9,212.4 378.6,212.4 379.3,212.5 380.1,212.5 380.8,212.5 381.5,212.5 382.2,212.5 382.9,212.4 383.6,212.4 384.4,212.4 385.1,212.3 385.8,212.3 386.5,212.2 387.3,212.1 388.0,211.9 388.7,211.8 389.4,211.6 390.2,211.5 390.9,211.3 391.6,211.0 392.3,210.6 393.0,210.3 393.7,210.0 394.1,209.4 394.6,208.7 395.0,208.1 395.4,207.4 395.5,206.5 395.7,205.7 395.9,204.9 396.0,204.2 396.1,203.4 396.1,202.6 396.2,201.9 396.2,201.2 396.1,200.4 396.1,199.8 396.0,199.1 395.9,198.4 395.8,197.8 395.7,197.2 395.7,196.6 395.6,196.0 395.5,195.5 395.4,195.0 395.4,194.4 395.3,193.9 395.2,193.4 395.2,193.0 395.1,192.5" fill="#de4e2a" stroke="#201010" stroke-opacity="0.75" stroke-width="0.45" stroke-linejoin="round"/>
<polygon points="368.2,210.0 366.7,207.4 366.4,203.8 366.7,199.5 367.4,195.1 368.0,191.1 368.2,188.0 368.0,185.9 367.6,184.4 367.2,183.2 366.8,182.3 366.3,181.3 366.0,180.0 365.7,178.4 365.4,176.7 365.2,175.0 364.9,173.3 364.7,171.6 364.6,170.0 364.5,168.6 364.4,167.3 364.4,166.0 364.4,164.7 364.5,163.4 364.6,162.0 364.8,160.4 365.0,158.7 365.2,156.9 365.5,155.1 365.9,153.5 366.2,152.0 366.5,150.8 366.9,149.6 367.3,148.7 367.7,147.7 368.2,146.9 368.6,146.0 369.0,145.2 369.5,144.4 370.0,143.6 370.4,142.9 370.9,142.2 371.5,141.5 372.1,140.8 372.7,140.2 373.4,139.6 374.1,139.0 374.8,138.5 375.5,138.0 376.2,137.5 377.0,137.1 377.8,136.7 378.5,136.3 379.3,136.0 380.0,135.8 380.7,135.7 381.4,135.7 382.0,135.7 382.7,135.8 383.3,136.0 384.0,136.2 384.7,136.5 385.3,136.9 386.0,137.3 386.7,137.9 387.3,138.4 388.0,139.0 388.7,139.7 389.4,140.4 390.1,141.1 390.7,141.9 391.4,142.7 392.0,143.5 392.6,144.2 393.1,144.9 393.6,145.7 394.1,146.4 394.5,147.2 395.0,148.0 395.5,148.9 395.9,149.8 396.3,150.8 396.8,151.8 397.1,152.9 397.5,154.0 397.8,155.2 398.1,156.5 398.4,157.9 398.6,159.3 398.8,160.6 399.0,162.0 399.1,163.3 399.2,164.7 399.2,166.0 399.2,167.3 399.1,168.7 399.0,170.0 398.9,171.4 398.7,172.8 398.4,174.2 398.1,175.6 397.9,176.8 397.6,178.0 397.3,179.0 397.0,179.9 396.7,180.7 396.4,181.4 396.1,182.2 395.8,183.0 395.4,183.6 395.0,184.0 394.6,184.4 394.3,185.1 393.9,186.2 393.7,188.0 393.9,190.9 394.5,194.9 395.2,199.3 395.5,203.7 395.2,207.4 393.7,210.0 390.6,211.5 386.1,212.4 380.9,212.8 375.8,212.4 371.3,211.5" fill="#dc2426" stroke="#201010" stroke-opacity="0.75" stroke-width="0.45" stroke-linejoin="round"/>
</g>
<rect x="338.4" y="21.8" width="169.9" height="169.9" fill="none" stroke="#b9b9b9" stroke-width="1"/>
<rect x="344.88" y="189.9" width="0.8" height="1.8" fill="#d4d4d4"/>
<rect x="344.88" y="21.8" width="0.8" height="1.8" fill="#d4d4d4"/>
<rect x="354.06" y="189.9" width="0.8" height="1.8" fill="#d4d4d4"/>
<rect x="354.06" y="21.8" width="0.8" height="1.8" fill="#d4d4d4"/>
<rect x="363.24" y="189.9" width="0.8" height="1.8" fill="#d4d4d4"/>
<rect x="363.24" y="21.8" width="0.8" height="1.8" fill="#d4d4d4"/>
<rect x="372.42" y="189.9" width="0.8" height="1.8" fill="#d4d4d4"/>
<rect x="372.42" y="21.8" width="0.8" height="1.8" fill="#d4d4d4"/>
<rect x="381.60" y="189.9" width="0.8" height="1.8" fill="#d4d4d4"/>
<rect x="381.60" y="21.8" width="0.8" height="1.8" fill="#d4d4d4"/>
<rect x="390.78" y="189.9" width="0.8" height="1.8" fill="#d4d4d4"/>
<rect x="390.78" y="21.8" width="0.8" height="1.8" fill="#d4d4d4"/>
<rect x="399.96" y="189.9" width="0.8" height="1.8" fill="#d4d4d4"/>
<rect x="399.96" y="21.8" width="0.8" height="1.8" fill="#d4d4d4"/>
<rect x="409.14" y="189.9" width="0.8" height="1.8" fill="#d4d4d4"/>
<rect x="409.14" y="21.8" width="0.8" height="1.8" fill="#d4d4d4"/>
<rect x="418.32" y="189.9" width="0.8" height="1.8" fill="#d4d4d4"/>
<rect x="418.32" y="21.8" width="0.8" height="1.8" fill="#d4d4d4"/>
<rect x="427.50" y="189.9" width="0.8" height="1.8" fill="#d4d4d4"/>
<rect x="427.50" y="21.8" width="0.8" height="1.8" fill="#d4d4d4"/>
<rect x="436.68" y="189.9" width="0.8" height="1.8" fill="#d4d4d4"/>
<rect x="436.68" y="21.8" width="0.8" height="1.8" fill="#d4d4d4"/>
<rect x="445.86" y="189.9" width="0.8" height="1.8" fill="#d4d4d4"/>
<rect x="445.86" y="21.8" width="0.8" height="1.8" fill="#d4d4d4"/>
<rect x="455.04" y="189.9" width="0.8" height="1.8" fill="#d4d4d4"/>
<rect x="455.04" y="21.8" width="0.8" height="1.8" fill="#d4d4d4"/>
<rect x="464.22" y="189.9" width="0.8" height="1.8" fill="#d4d4d4"/>
<rect x="464.22" y="21.8" width="0.8" height="1.8" fill="#d4d4d4"/>
<rect x="473.40" y="189.9" width="0.8" height="1.8" fill="#d4d4d4"/>
<rect x="473.40" y="21.8" width="0.8" height="1.8" fill="#d4d4d4"/>
<rect x="482.58" y="189.9" width="0.8" height="1.8" fill="#d4d4d4"/>
<rect x="482.58" y="21.8" width="0.8" height="1.8" fill="#d4d4d4"/>
<rect x="491.76" y="189.9" width="0.8" height="1.8" fill="#d4d4d4"/>
<rect x="491.76" y="21.8" width="0.8" height="1.8" fill="#d4d4d4"/>
<rect x="500.94" y="189.9" width="0.8" height="1.8" fill="#d4d4d4"/>
<rect x="500.94" y="21.8" width="0.8" height="1.8" fill="#d4d4d4"/>
<rect x="338.4" y="24.60" width="1.8" height="0.8" fill="#d4d4d4"/>
<rect x="506.5" y="24.60" width="1.8" height="0.8" fill="#d4d4d4"/>
<rect x="338.4" y="32.75" width="1.8" height="0.8" fill="#d4d4d4"/>
<rect x="506.5" y="32.75" width="1.8" height="0.8" fill="#d4d4d4"/>
<rect x="338.4" y="40.90" width="1.8" height="0.8" fill="#d4d4d4"/>
<rect x="506.5" y="40.90" width="1.8" height="0.8" fill="#d4d4d4"/>
<rect x="338.4" y="49.05" width="1.8" height="0.8" fill="#d4d4d4"/>
<rect x="506.5" y="49.05" width="1.8" height="0.8" fill="#d4d4d4"/>
<rect x="338.4" y="57.20" width="1.8" height="0.8" fill="#d4d4d4"/>
<rect x="506.5" y="57.20" width="1.8" height="0.8" fill="#d4d4d4"/>
<rect x="338.4" y="65.35" width="1.8" height="0.8" fill="#d4d4d4"/>
<rect x="506.5" y="65.35" width="1.8" height="0.8" fill="#d4d4d4"/>
<rect x="338.4" y="73.50" width="1.8" height="0.8" fill="#d4d4d4"/>
<rect x="506.5" y="73.50" width="1.8" height="0.8" fill="#d4d4d4"/>
<rect x="338.4" y="81.65" width="1.8" height="0.8" fill="#d4d4d4"/>
<rect x="506.5" y="81.65" width="1.8" height="0.8" fill="#d4d4d4"/>
<rect x="338.4" y="89.80" width="1.8" height="0.8" fill="#d4d4d4"/>
<rect x="506.5" y="89.80" width="1.8" height="0.8" fill="#d4d4d4"/>
<rect x="338.4" y="97.95" width="1.8" height="0.8" fill="#d4d4d4"/>
<rect x="506.5" y="97.95" width="1.8" height="0.8" fill="#d4d4d4"/>
<rect x="338.4" y="106.10" width="1.8" height="0.8" fill="#d4d4d4"/>
<rect x="506.5" y="106.10" width="1.8" height="0.8" fill="#d4d4d4"/>
<rect x="338.4" y="114.25" width="1.8" height="0.8" fill="#d4d4d4"/>
<rect x="506.5" y="114.25" width="1.8" height="0.8" fill="#d4d4d4"/>
<rect x="338.4" y="122.40" width="1.8" height="0.8" fill="#d4d4d4"/>
<rect x="506.5" y="122.40" width="1.8" height="0.8" fill="#d4d4d4"/>
<rect x="338.4" y="130.55" width="1.8" height="0.8" fill="#d4d4d4"/>
<rect x="506.5" y="130.55" width="1.8" height="0.8" fill="#d4d4d4"/>
<rect x="338.4" y="138.70" width="1.8" height="0.8" fill="#d4d4d4"/>
<rect x="506.5" y="138.70" width="1.8" height="0.8" fill="#d4d4d4"/>
<rect x="338.4" y="146.85" width="1.8" height="0.8" fill="#d4d4d4"/>
<rect x="506.5" y="146.85" width="1.8" height="0.8" fill="#d4d4d4"/>
<rect x="338.4" y="155.00" width="1.8" height="0.8" fill="#d4d4d4"/>
<rect x="506.5" y="155.00" width="1.8" height="0.8" fill="#d4d4d4"/>
<rect x="338.4" y="163.15" width="1.8" height="0.8" fill="#d4d4d4"/>
<rect x="506.5" y="163.15" width="1.8" height="0.8" fill="#d4d4d4"/>
<rect x="338.4" y="171.30" width="1.8" height="0.8" fill="#d4d4d4"/>
<rect x="506.5" y="171.30" width="1.8" height="0.8" fill="#d4d4d4"/>
<rect x="338.4" y="179.45" width="1.8" height="0.8" fill="#d4d4d4"/>
<rect x="506.5" y="179.45" width="1.8" height="0.8" fill="#d4d4d4"/>
<rect x="338.4" y="187.60" width="1.8" height="0.8" fill="#d4d4d4"/>
<rect x="506.5" y="187.60" width="1.8" height="0.8" fill="#d4d4d4"/>
<rect x="381.20" y="187.6" width="1.6" height="4.1" fill="#000"/>
<rect x="381.20" y="21.8" width="1.6" height="3.4" fill="#000"/>
<rect x="427.00" y="187.6" width="1.6" height="4.1" fill="#000"/>
<rect x="427.00" y="21.8" width="1.6" height="3.4" fill="#000"/>
<rect x="472.80" y="187.6" width="1.6" height="4.1" fill="#000"/>
<rect x="472.80" y="21.8" width="1.6" height="3.4" fill="#000"/>
<rect x="338.4" y="187.20" width="3.4" height="1.6" fill="#000"/>
<rect x="504.6" y="187.20" width="3.7" height="1.6" fill="#000"/>
<rect x="338.4" y="147.50" width="3.4" height="1.6" fill="#000"/>
<rect x="504.6" y="147.50" width="3.7" height="1.6" fill="#000"/>
<rect x="338.4" y="106.60" width="3.4" height="1.6" fill="#000"/>
<rect x="504.6" y="106.60" width="3.7" height="1.6" fill="#000"/>
<rect x="338.4" y="65.60" width="3.4" height="1.6" fill="#000"/>
<rect x="504.6" y="65.60" width="3.7" height="1.6" fill="#000"/>
<rect x="338.4" y="24.20" width="3.4" height="1.6" fill="#000"/>
<rect x="504.6" y="24.20" width="3.7" height="1.6" fill="#000"/>
<g clip-path="url(#clipc)">
<rect x="556.8" y="25.3" width="164.2" height="164.2" fill="#e8983a"/>
<polygon points="550.0,20.0 553.2,20.6 556.5,20.6 559.7,19.4 562.9,20.0 562.9,25.6 565.9,26.9 567.9,29.5 570.8,30.9 567.7,31.6 564.9,32.9 560.9,35.9 559.9,38.8 558.9,43.4 554.5,43.2 550.0,43.4 549.7,40.1 550.1,36.7 550.1,33.4 550.1,30.0 549.5,26.7 549.9,23.3" fill="#d2b440" stroke="#301408" stroke-opacity="0.9" stroke-width="0.8" stroke-linejoin="miter"/>
<polygon points="715.6,20.0 719.2,19.6 722.8,20.1 726.4,19.8 730.0,20.0 729.9,23.3 729.8,26.7 730.6,30.0 730.7,33.3 729.5,36.6 730.3,40.0 730.0,43.3 727.0,43.7 724.0,42.6 721.0,43.3 718.8,39.0 718.2,35.9 717.7,32.7 717.1,28.7 715.6,25.0" fill="#d2b440" stroke="#301408" stroke-opacity="0.9" stroke-width="0.8" stroke-linejoin="miter"/>
<polygon points="666.0,20.0 669.0,19.6 672.1,19.4 675.1,19.9 678.2,19.5 681.2,19.4 684.3,19.9 687.3,20.6 690.4,20.4 693.4,20.0 693.4,25.0 695.2,28.5 698.0,31.3 699.8,34.8 700.8,38.0 702.2,41.1 703.4,44.2 704.0,47.5 706.1,50.4 707.5,53.7 708.2,57.3 710.3,60.2 711.4,64.2 712.0,67.2 713.1,70.0 714.6,72.7 714.7,76.9 715.6,81.1 713.9,84.5 711.4,87.5 710.0,90.8 708.2,93.8 705.2,94.7 702.2,95.6 699.2,96.5 696.2,97.5 693.4,99.1 690.4,100.5 687.0,100.6 683.8,101.3 680.7,102.3 677.5,102.6 674.4,103.3 671.2,103.1 668.1,103.9 664.8,103.0 661.7,103.4 658.6,104.1 655.4,104.4 657.7,102.1 660.7,100.6 662.8,98.0 662.3,94.8 661.7,91.7 658.9,88.6 655.4,86.4 656.4,81.1 655.3,76.7 653.3,72.7 655.4,67.4 653.3,63.8 651.1,60.2 651.3,57.0 651.8,53.9 651.8,50.7 652.2,47.5 650.6,43.9 650.0,40.0 652.3,37.7 655.3,36.1 657.5,33.7 659.2,31.1 661.3,28.9 664.0,27.3 666.0,25.0" fill="#de4c2a" stroke="#301408" stroke-opacity="0.9" stroke-width="0.8" stroke-linejoin="miter"/>
<polygon points="680.1,45.4 682.0,48.4 683.8,51.4 685.8,54.3 688.1,57.0 689.8,59.9 692.1,62.2 694.5,64.4 693.4,66.3 692.8,69.5 694.1,72.7 693.4,75.9 691.3,78.5 689.2,81.1 685.7,82.3 682.8,84.5 679.7,86.4 678.3,83.7 675.6,82.0 674.1,79.3 672.3,76.9 671.4,72.5 671.2,68.0 671.8,65.0 672.4,62.0 672.1,58.9 673.3,56.0 674.7,53.1 676.4,50.5 678.9,48.4" fill="#dc2426" stroke="#301408" stroke-opacity="0.9" stroke-width="0.8" stroke-linejoin="miter"/>
<polygon points="574.3,83.5 577.4,83.6 580.4,83.3 583.4,82.5 586.4,81.9 589.4,81.2 592.5,81.8 595.6,81.2 598.6,80.9 602.9,83.5 607.1,86.6 609.2,91.9 613.4,96.1 615.3,99.0 617.7,101.4 620.9,102.0 623.9,103.4 627.2,103.5 630.3,104.6 626.9,104.7 623.6,105.3 620.3,106.2 616.9,106.6 618.0,108.7 621.2,108.8 624.3,109.1 627.5,108.5 630.7,109.1 633.8,109.6 637.0,108.9 640.2,109.7 643.3,109.6 646.5,109.9 649.7,109.3 652.9,109.1 656.0,110.1 659.2,109.8 662.4,114.0 663.4,118.3 665.5,122.5 663.8,125.0 669.1,126.0 667.0,130.3 669.2,133.1 672.0,135.2 674.4,137.7 671.5,140.3 668.0,141.9 670.4,143.7 672.1,146.3 674.4,148.3 671.2,151.4 674.5,152.6 677.3,154.8 680.7,155.7 677.8,157.0 675.3,158.9 672.3,159.9 669.4,161.1 666.7,162.9 663.8,164.1 661.7,169.4 660.1,165.4 657.5,162.0 655.3,158.9 652.2,156.7 654.3,153.5 651.5,151.0 648.8,148.4 645.9,146.1 645.0,143.1 643.9,140.1 642.3,137.3 639.2,136.1 635.9,136.9 632.8,135.9 629.7,135.0 626.4,134.9 623.3,134.1 619.0,132.0 617.7,135.0 617.2,138.3 615.5,141.1 619.0,143.2 623.0,144.3 623.5,148.0 624.0,151.7 626.1,155.6 627.2,159.8 628.0,164.1 629.3,168.3 630.1,171.4 630.8,174.6 630.9,177.8 631.4,181.0 631.9,184.5 631.8,188.0 630.9,191.5 631.4,195.0 628.3,194.7 625.3,195.7 622.2,194.6 619.1,195.7 616.0,195.2 613.0,194.4 609.9,194.8 606.8,195.3 603.7,195.2 600.7,195.2 597.6,195.5 594.5,194.3 591.4,195.6 588.4,195.1 585.3,194.7 582.2,195.1 579.1,194.3 576.1,195.4 573.0,195.0 571.5,191.7 569.4,188.8 566.9,186.2 566.6,182.5 565.9,178.8 565.3,175.5 563.7,172.5 564.8,168.3 565.8,164.7 566.9,161.2 571.1,157.0 570.1,151.7 572.2,147.5 574.9,146.1 577.4,144.3 579.6,142.2 582.8,138.0 583.8,133.7 582.3,131.1 580.7,128.5 581.7,125.3 580.7,120.0 579.6,119.4 578.5,116.2 577.5,113.0 578.3,109.9 578.5,106.7 576.0,104.7 573.2,102.9 571.1,100.4 568.7,98.0 565.9,96.1 568.8,92.7 572.2,89.8 576.4,86.6" fill="#de4c2a" stroke="#301408" stroke-opacity="0.9" stroke-width="0.8" stroke-linejoin="miter"/>
<polygon points="622.2,115.1 625.4,114.9 628.5,114.6 631.7,115.3 634.9,114.5 638.0,115.2 641.2,115.1 639.1,120.4 636.1,119.5 633.0,118.9 630.3,117.3 626.3,116.2" fill="#e8983a" stroke="#301408" stroke-opacity="0.9" stroke-width="0.8" stroke-linejoin="miter"/>
<polygon points="597.6,147.1 600.6,148.2 602.9,150.5 606.0,151.3 608.3,153.7 609.5,156.8 612.0,158.9 613.4,161.9 615.1,164.6 615.6,167.9 617.7,170.4 619.1,173.4 619.8,176.7 617.7,182.0 617.8,185.3 618.3,188.5 618.5,191.7 618.7,195.0 615.4,195.0 612.2,195.4 608.9,194.5 605.6,195.6 602.4,195.4 599.1,195.7 595.9,195.3 592.6,195.1 589.3,194.4 586.1,195.2 582.8,195.0 582.0,191.5 581.9,188.0 582.7,184.4 581.7,181.0 580.9,176.8 581.3,172.5 582.2,168.3 582.8,164.0 584.8,160.2 587.0,156.6 589.3,154.1 591.2,151.3 594.3,149.0" fill="#dc2426" stroke="#301408" stroke-opacity="0.9" stroke-width="0.8" stroke-linejoin="miter"/>
</g>
<rect x="553.8" y="22.6" width="170.2" height="170.2" fill="none" stroke="#b9b9b9" stroke-width="1"/>
<rect x="561.16" y="191.0" width="0.8" height="1.8" fill="#d4d4d4"/>
<rect x="561.16" y="22.6" width="0.8" height="1.8" fill="#d4d4d4"/>
<rect x="569.33" y="191.0" width="0.8" height="1.8" fill="#d4d4d4"/>
<rect x="569.33" y="22.6" width="0.8" height="1.8" fill="#d4d4d4"/>
<rect x="577.50" y="191.0" width="0.8" height="1.8" fill="#d4d4d4"/>
<rect x="577.50" y="22.6" width="0.8" height="1.8" fill="#d4d4d4"/>
<rect x="585.67" y="191.0" width="0.8" height="1.8" fill="#d4d4d4"/>
<rect x="585.67" y="22.6" width="0.8" height="1.8" fill="#d4d4d4"/>
<rect x="593.84" y="191.0" width="0.8" height="1.8" fill="#d4d4d4"/>
<rect x="593.84" y="22.6" width="0.8" height="1.8" fill="#d4d4d4"/>
<rect x="602.01" y="191.0" width="0.8" height="1.8" fill="#d4d4d4"/>
<rect x="602.01" y="22.6" width="0.8" height="1.8" fill="#d4d4d4"/>
<rect x="610.18" y="191.0" width="0.8" height="1.8" fill="#d4d4d4"/>
<rect x="610.18" y="22.6" width="0.8" height="1.8" fill="#d4d4d4"/>
<rect x="618.35" y="191.0" width="0.8" height="1.8" fill="#d4d4d4"/>
<rect x="618.35" y="22.6" width="0.8" height="1.8" fill="#d4d4d4"/>
<rect x="626.52" y="191.0" width="0.8" height="1.8" fill="#d4d4d4"/>
<rect x="626.52" y="22.6" width="0.8" height="1.8" fill="#d4d4d4"/>
<rect x="634.69" y="191.0" width="0.8" height="1.8" fill="#d4d4d4"/>
<rect x="634.69" y="22.6" width="0.8" height="1.8" fill="#d4d4d4"/>
<rect x="642.86" y="191.0" width="0.8" height="1.8" fill="#d4d4d4"/>
<rect x="642.86" y="22.6" width="0.8" height="1.8" fill="#d4d4d4"/>
<rect x="651.03" y="191.0" width="0.8" height="1.8" fill="#d4d4d4"/>
<rect x="651.03" y="22.6" width="0.8" height="1.8" fill="#d4d4d4"/>
<rect x="659.20" y="191.0" width="0.8" height="1.8" fill="#d4d4d4"/>
<rect x="659.20" y="22.6" width="0.8" height="1.8" fill="#d4d4d4"/>
<rect x="667.37" y="191.0" width="0.8" height="1.8" fill="#d4d4d4"/>
<rect x="667.37" y="22.6" width="0.8" height="1.8" fill="#d4d4d4"/>
<rect x="675.54" y="191.0" width="0.8" height="1.8" fill="#d4d4d4"/>
<rect x="675.54" y="22.6" width="0.8" height="1.8" fill="#d4d4d4"/>
<rect x="683.71" y="191.0" width="0.8" height="1.8" fill="#d4d4d4"/>
<rect x="683.71" y="22.6" width="0.8" height="1.8" fill="#d4d4d4"/>
<rect x="691.88" y="191.0" width="0.8" height="1.8" fill="#d4d4d4"/>
<rect x="691.88" y="22.6" width="0.8" height="1.8" fill="#d4d4d4"/>
<rect x="700.05" y="191.0" width="0.8" height="1.8" fill="#d4d4d4"/>
<rect x="700.05" y="22.6" width="0.8" height="1.8" fill="#d4d4d4"/>
<rect x="708.22" y="191.0" width="0.8" height="1.8" fill="#d4d4d4"/>
<rect x="708.22" y="22.6" width="0.8" height="1.8" fill="#d4d4d4"/>
<rect x="716.39" y="191.0" width="0.8" height="1.8" fill="#d4d4d4"/>
<rect x="716.39" y="22.6" width="0.8" height="1.8" fill="#d4d4d4"/>
<rect x="553.8" y="28.20" width="1.8" height="0.8" fill="#d4d4d4"/>
<rect x="722.2" y="28.20" width="1.8" height="0.8" fill="#d4d4d4"/>
<rect x="553.8" y="36.12" width="1.8" height="0.8" fill="#d4d4d4"/>
<rect x="722.2" y="36.12" width="1.8" height="0.8" fill="#d4d4d4"/>
<rect x="553.8" y="44.04" width="1.8" height="0.8" fill="#d4d4d4"/>
<rect x="722.2" y="44.04" width="1.8" height="0.8" fill="#d4d4d4"/>
<rect x="553.8" y="51.96" width="1.8" height="0.8" fill="#d4d4d4"/>
<rect x="722.2" y="51.96" width="1.8" height="0.8" fill="#d4d4d4"/>
<rect x="553.8" y="59.88" width="1.8" height="0.8" fill="#d4d4d4"/>
<rect x="722.2" y="59.88" width="1.8" height="0.8" fill="#d4d4d4"/>
<rect x="553.8" y="67.80" width="1.8" height="0.8" fill="#d4d4d4"/>
<rect x="722.2" y="67.80" width="1.8" height="0.8" fill="#d4d4d4"/>
<rect x="553.8" y="75.72" width="1.8" height="0.8" fill="#d4d4d4"/>
<rect x="722.2" y="75.72" width="1.8" height="0.8" fill="#d4d4d4"/>
<rect x="553.8" y="83.64" width="1.8" height="0.8" fill="#d4d4d4"/>
<rect x="722.2" y="83.64" width="1.8" height="0.8" fill="#d4d4d4"/>
<rect x="553.8" y="91.56" width="1.8" height="0.8" fill="#d4d4d4"/>
<rect x="722.2" y="91.56" width="1.8" height="0.8" fill="#d4d4d4"/>
<rect x="553.8" y="99.48" width="1.8" height="0.8" fill="#d4d4d4"/>
<rect x="722.2" y="99.48" width="1.8" height="0.8" fill="#d4d4d4"/>
<rect x="553.8" y="107.40" width="1.8" height="0.8" fill="#d4d4d4"/>
<rect x="722.2" y="107.40" width="1.8" height="0.8" fill="#d4d4d4"/>
<rect x="553.8" y="115.32" width="1.8" height="0.8" fill="#d4d4d4"/>
<rect x="722.2" y="115.32" width="1.8" height="0.8" fill="#d4d4d4"/>
<rect x="553.8" y="123.24" width="1.8" height="0.8" fill="#d4d4d4"/>
<rect x="722.2" y="123.24" width="1.8" height="0.8" fill="#d4d4d4"/>
<rect x="553.8" y="131.16" width="1.8" height="0.8" fill="#d4d4d4"/>
<rect x="722.2" y="131.16" width="1.8" height="0.8" fill="#d4d4d4"/>
<rect x="553.8" y="139.08" width="1.8" height="0.8" fill="#d4d4d4"/>
<rect x="722.2" y="139.08" width="1.8" height="0.8" fill="#d4d4d4"/>
<rect x="553.8" y="147.00" width="1.8" height="0.8" fill="#d4d4d4"/>
<rect x="722.2" y="147.00" width="1.8" height="0.8" fill="#d4d4d4"/>
<rect x="553.8" y="154.92" width="1.8" height="0.8" fill="#d4d4d4"/>
<rect x="722.2" y="154.92" width="1.8" height="0.8" fill="#d4d4d4"/>
<rect x="553.8" y="162.84" width="1.8" height="0.8" fill="#d4d4d4"/>
<rect x="722.2" y="162.84" width="1.8" height="0.8" fill="#d4d4d4"/>
<rect x="553.8" y="170.76" width="1.8" height="0.8" fill="#d4d4d4"/>
<rect x="722.2" y="170.76" width="1.8" height="0.8" fill="#d4d4d4"/>
<rect x="553.8" y="178.68" width="1.8" height="0.8" fill="#d4d4d4"/>
<rect x="722.2" y="178.68" width="1.8" height="0.8" fill="#d4d4d4"/>
<rect x="553.8" y="186.60" width="1.8" height="0.8" fill="#d4d4d4"/>
<rect x="722.2" y="186.60" width="1.8" height="0.8" fill="#d4d4d4"/>
<rect x="577.10" y="188.9" width="1.6" height="3.9" fill="#000"/>
<rect x="577.10" y="22.6" width="1.6" height="3.3" fill="#000"/>
<rect x="618.00" y="188.9" width="1.6" height="3.9" fill="#000"/>
<rect x="618.00" y="22.6" width="1.6" height="3.3" fill="#000"/>
<rect x="658.90" y="188.9" width="1.6" height="3.9" fill="#000"/>
<rect x="658.90" y="22.6" width="1.6" height="3.3" fill="#000"/>
<rect x="699.60" y="188.9" width="1.6" height="3.9" fill="#000"/>
<rect x="699.60" y="22.6" width="1.6" height="3.3" fill="#000"/>
<rect x="553.8" y="186.20" width="3.6" height="1.6" fill="#000"/>
<rect x="720.4" y="186.20" width="3.6" height="1.6" fill="#000"/>
<rect x="553.8" y="147.20" width="3.6" height="1.6" fill="#000"/>
<rect x="720.4" y="147.20" width="3.6" height="1.6" fill="#000"/>
<rect x="553.8" y="107.10" width="3.6" height="1.6" fill="#000"/>
<rect x="720.4" y="107.10" width="3.6" height="1.6" fill="#000"/>
<rect x="553.8" y="67.80" width="3.6" height="1.6" fill="#000"/>
<rect x="720.4" y="67.80" width="3.6" height="1.6" fill="#000"/>
<rect x="553.8" y="27.90" width="3.6" height="1.6" fill="#000"/>
<rect x="720.4" y="27.90" width="3.6" height="1.6" fill="#000"/>
<text x="112.3" y="209.5" text-anchor="middle" font-family="'Liberation Sans', sans-serif" font-size="16" letter-spacing="0.25" fill="#5a5a5a" stroke="#fff" stroke-width="0.25">0</text>
<text x="154.7" y="209.5" text-anchor="middle" font-family="'Liberation Sans', sans-serif" font-size="16" letter-spacing="0.25" fill="#5a5a5a" stroke="#fff" stroke-width="0.25">10</text>
<text x="195.9" y="209.5" text-anchor="middle" font-family="'Liberation Sans', sans-serif" font-size="16" letter-spacing="0.25" fill="#5a5a5a" stroke="#fff" stroke-width="0.25">20</text>
<text x="237.5" y="209.5" text-anchor="middle" font-family="'Liberation Sans', sans-serif" font-size="16" letter-spacing="0.25" fill="#5a5a5a" stroke="#fff" stroke-width="0.25">30</text>
<text x="279.9" y="209.5" text-anchor="middle" font-family="'Liberation Sans', sans-serif" font-size="16" letter-spacing="0.25" fill="#5a5a5a" stroke="#fff" stroke-width="0.25">40</text>
<text x="108.5" y="30.1" text-anchor="end" font-family="'Liberation Sans', sans-serif" font-size="16" letter-spacing="0.25" fill="#5a5a5a" stroke="#fff" stroke-width="0.25">2.0</text>
<text x="108.5" y="71.1" text-anchor="end" font-family="'Liberation Sans', sans-serif" font-size="16" letter-spacing="0.25" fill="#5a5a5a" stroke="#fff" stroke-width="0.25">1.5</text>
<text x="108.5" y="112.1" text-anchor="end" font-family="'Liberation Sans', sans-serif" font-size="16" letter-spacing="0.25" fill="#5a5a5a" stroke="#fff" stroke-width="0.25">1.0</text>
<text x="108.5" y="153.3" text-anchor="end" font-family="'Liberation Sans', sans-serif" font-size="16" letter-spacing="0.25" fill="#5a5a5a" stroke="#fff" stroke-width="0.25">0.5</text>
<text x="382.2" y="209.5" text-anchor="middle" font-family="'Liberation Sans', sans-serif" font-size="16" letter-spacing="0.25" fill="#5a5a5a" stroke="#fff" stroke-width="0.25">0.5</text>
<text x="428.3" y="209.5" text-anchor="middle" font-family="'Liberation Sans', sans-serif" font-size="16" letter-spacing="0.25" fill="#5a5a5a" stroke="#fff" stroke-width="0.25">1.0</text>
<text x="474.1" y="209.5" text-anchor="middle" font-family="'Liberation Sans', sans-serif" font-size="16" letter-spacing="0.25" fill="#5a5a5a" stroke="#fff" stroke-width="0.25">1.5</text>
<text x="335.4" y="30.4" text-anchor="end" font-family="'Liberation Sans', sans-serif" font-size="16" letter-spacing="0.25" fill="#5a5a5a" stroke="#fff" stroke-width="0.25">2.0</text>
<text x="335.4" y="72.6" text-anchor="end" font-family="'Liberation Sans', sans-serif" font-size="16" letter-spacing="0.25" fill="#5a5a5a" stroke="#fff" stroke-width="0.25">1.5</text>
<text x="335.4" y="114.1" text-anchor="end" font-family="'Liberation Sans', sans-serif" font-size="16" letter-spacing="0.25" fill="#5a5a5a" stroke="#fff" stroke-width="0.25">1.0</text>
<text x="335.4" y="155.1" text-anchor="end" font-family="'Liberation Sans', sans-serif" font-size="16" letter-spacing="0.25" fill="#5a5a5a" stroke="#fff" stroke-width="0.25">0.5</text>
<text x="335.4" y="197.8" text-anchor="end" font-family="'Liberation Sans', sans-serif" font-size="16" letter-spacing="0.25" fill="#5a5a5a" stroke="#fff" stroke-width="0.25">0.0</text>
<text x="577.7" y="209.5" text-anchor="middle" font-family="'Liberation Sans', sans-serif" font-size="16" letter-spacing="0.25" fill="#5a5a5a" stroke="#fff" stroke-width="0.25">0.05</text>
<text x="618.9" y="209.5" text-anchor="middle" font-family="'Liberation Sans', sans-serif" font-size="16" letter-spacing="0.25" fill="#5a5a5a" stroke="#fff" stroke-width="0.25">0.10</text>
<text x="659.6" y="209.5" text-anchor="middle" font-family="'Liberation Sans', sans-serif" font-size="16" letter-spacing="0.25" fill="#5a5a5a" stroke="#fff" stroke-width="0.25">0.15</text>
<text x="700.3" y="209.5" text-anchor="middle" font-family="'Liberation Sans', sans-serif" font-size="16" letter-spacing="0.25" fill="#5a5a5a" stroke="#fff" stroke-width="0.25">0.20</text>
<text x="550.9" y="31.8" text-anchor="end" font-family="'Liberation Sans', sans-serif" font-size="16" letter-spacing="0.25" fill="#5a5a5a" stroke="#fff" stroke-width="0.25">2.0</text>
<text x="550.9" y="73.3" text-anchor="end" font-family="'Liberation Sans', sans-serif" font-size="16" letter-spacing="0.25" fill="#5a5a5a" stroke="#fff" stroke-width="0.25">1.5</text>
<text x="550.9" y="114.9" text-anchor="end" font-family="'Liberation Sans', sans-serif" font-size="16" letter-spacing="0.25" fill="#5a5a5a" stroke="#fff" stroke-width="0.25">1.0</text>
<text x="550.9" y="157.1" text-anchor="end" font-family="'Liberation Sans', sans-serif" font-size="16" letter-spacing="0.25" fill="#5a5a5a" stroke="#fff" stroke-width="0.25">0.5</text>
<text x="195.2" y="224" text-anchor="middle" font-family="'Liberation Serif', serif" font-size="14.2" fill="#1a1a1a" stroke="#fff" stroke-width="0.2">Time, <tspan font-style="italic">t</tspan> (μs)</text>
<text x="431.4" y="224" text-anchor="middle" font-family="'Liberation Serif', serif" font-size="14.2" fill="#1a1a1a" stroke="#fff" stroke-width="0.2">Time, <tspan font-style="italic">t</tspan> (μs)</text>
<text x="654.0" y="224" text-anchor="middle" font-family="'Liberation Serif', serif" font-size="14.2" fill="#1a1a1a" stroke="#fff" stroke-width="0.2">Time, <tspan font-style="italic">t</tspan> (μs)</text>
<text transform="translate(77.2,114.5) rotate(-90)" text-anchor="middle" font-family="'Liberation Serif', serif" font-size="14.2" letter-spacing="0.1" fill="#1a1a1a" stroke="#fff" stroke-width="0.2">Position, <tspan font-style="italic">z</tspan> (mm)</text>
<text transform="translate(301.5,114.4) rotate(-90)" text-anchor="middle" font-family="'Liberation Serif', serif" font-size="14.2" letter-spacing="0.1" fill="#1a1a1a" stroke="#fff" stroke-width="0.2">Position, <tspan font-style="italic">z</tspan> (mm)</text>
<text transform="translate(525.8,116.4) rotate(-90)" text-anchor="middle" font-family="'Liberation Serif', serif" font-size="14.2" letter-spacing="0.1" fill="#1a1a1a" stroke="#fff" stroke-width="0.2">Position, <tspan font-style="italic">z</tspan> (mm)</text>
<text x="132.6" y="15.4" font-family="'Liberation Serif', serif" font-size="13" letter-spacing="0.54" fill="#1a1a1a" stroke="#fff" stroke-width="0.15"><tspan font-family="'Liberation Sans', sans-serif" font-size="12.5">a)</tspan> 25 kHz at 0.7 W cm<tspan dy="-5" font-size="9">-3</tspan></text>
<text x="339.5" y="16.0" font-family="'Liberation Serif', serif" font-size="13" letter-spacing="0.53" fill="#1a1a1a" stroke="#fff" stroke-width="0.15"><tspan font-family="'Liberation Sans', sans-serif" font-size="12.5">b)</tspan> 550 kHz at 2.4 W cm<tspan dy="-5" font-size="9">-3</tspan></text>
<text x="565.2" y="16.5" font-family="'Liberation Serif', serif" font-size="13" letter-spacing="0.46" fill="#1a1a1a" stroke="#fff" stroke-width="0.15"><tspan font-family="'Liberation Sans', sans-serif" font-size="12.5">c)</tspan> <tspan font-family="'Liberation Sans', sans-serif" font-size="12.5">5.0</tspan> MHz at 5 W cm<tspan dy="-5" font-size="9">-3</tspan></text>
</svg></body></html>
